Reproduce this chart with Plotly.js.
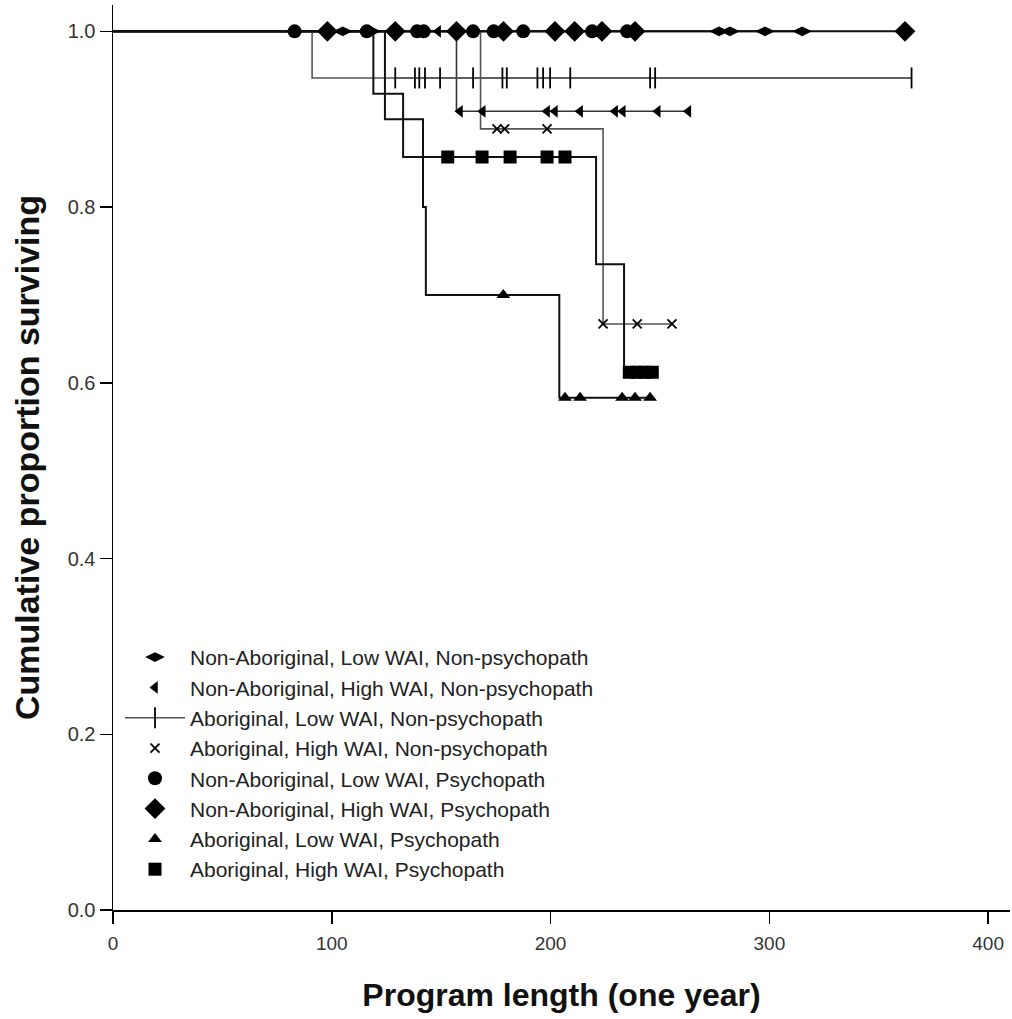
<!DOCTYPE html>
<html>
<head>
<meta charset="utf-8">
<script src="https://cdn.plot.ly/plotly-3.0.1.min.js"></script>
<style>html,body{margin:0;padding:0;background:#fff;}#chart{width:1012px;height:1019px;}</style>
</head>
<body>
<div id="chart"></div>
<script>
// ---- Data (Kaplan-Meier curves) ----
const groupNames = [
  "Non-Aboriginal, Low WAI, Non-psychopath",
  "Non-Aboriginal, High WAI, Non-psychopath",
  "Aboriginal, Low WAI, Non-psychopath",
  "Aboriginal, High WAI, Non-psychopath",
  "Non-Aboriginal, Low WAI, Psychopath",
  "Non-Aboriginal, High WAI, Psychopath",
  "Aboriginal, Low WAI, Psychopath",
  "Aboriginal, High WAI, Psychopath"
];

// step curve knots: times and survival after each time
const stepTimes1 = [0, 315];
const stepSurv1  = [1.0, 1.0];
const stepTimes2 = [0, 157, 263];
const stepSurv2  = [1.0, 0.909, 0.909];
const stepTimes3 = [0, 91, 365];
const stepSurv3  = [1.0, 0.947, 0.947];
const stepTimes4 = [0, 168, 224, 255.5];
const stepSurv4  = [1.0, 0.889, 0.667, 0.667];
const stepTimes5 = [0, 235];
const stepSurv5  = [1.0, 1.0];
const stepTimes6 = [0, 362];
const stepSurv6  = [1.0, 1.0];
const stepTimes7 = [0, 124.3, 141.7, 143, 204, 245.5];
const stepSurv7  = [1.0, 0.9, 0.8, 0.7, 0.583, 0.583];
const stepTimes8 = [0, 119, 132.6, 220.8, 233.6, 247];
const stepSurv8  = [1.0, 0.929, 0.857, 0.735, 0.612, 0.612];

// censored observation times
const censor1 = [105, 118, 277, 282, 298, 315];
const censor2 = [148.6, 158.6, 169, 198.4, 202, 213.5, 229.5, 233, 249, 263];
const censor3 = [129, 138, 140, 142.6, 149.5, 164.6, 178, 180, 194, 196.6, 199.8, 209, 245.5, 247.8, 365];
const censor4 = [175.5, 179, 198.4, 224, 239.6, 255.5];
const censor5 = [83, 116, 139, 142, 164.6, 174, 187.5, 219, 235];
const censor6 = [98, 129, 157, 178.5, 202, 211, 223.5, 238.6, 362];
const censor7 = [178.4, 206.6, 213.5, 232.7, 238.6, 245.5];
const censor8 = [153, 168.7, 181.5, 198.4, 206.6, 236, 239.5, 243, 246.5];

const xTicks = [0, 100, 200, 300, 400];
const yTicks = [0, 0.2, 0.4, 0.6, 0.8, 1.0];

// ---- styles ----
const stepTimes = [stepTimes1, stepTimes2, stepTimes3, stepTimes4, stepTimes5, stepTimes6, stepTimes7, stepTimes8];
const stepSurv  = [stepSurv1, stepSurv2, stepSurv3, stepSurv4, stepSurv5, stepSurv6, stepSurv7, stepSurv8];
const censors   = [censor1, censor2, censor3, censor4, censor5, censor6, censor7, censor8];
const lineStyles = [
  {color:'#111', width:2},
  {color:'#333', width:1.6},
  {color:'#555', width:1.6},
  {color:'#555', width:1.6},
  {color:'#111', width:2},
  {color:'#111', width:2},
  {color:'#111', width:2},
  {color:'#111', width:2}
];
const markerStyles = [
  {symbol:'diamond-wide', size:14, color:'#000'},
  {symbol:'triangle-left', size:11, color:'#000'},
  {symbol:'line-ns', size:15, color:'#000', line:{color:'#000', width:1.8}},
  {symbol:'x-thin', size:9, color:'#000', line:{color:'#000', width:1.8}},
  {symbol:'circle', size:14, color:'#000'},
  {symbol:'diamond', size:16, color:'#000'},
  {symbol:'triangle-up', size:12, color:'#000'},
  {symbol:'square', size:13, color:'#000'}
];

function survAt(times, surv, t) {
  let s = surv[0];
  for (let i = 0; i < times.length; i++) { if (times[i] <= t) s = surv[i]; }
  return s;
}

const traces = [];
for (let g = 0; g < 8; g++) {
  traces.push({
    x: stepTimes[g], y: stepSurv[g], mode:'lines', line:Object.assign({shape:'hv'}, lineStyles[g]),
    showlegend:false, hoverinfo:'skip'
  });
}
for (let g = 0; g < 8; g++) {
  const ys = censors[g].map(t => survAt(stepTimes[g], stepSurv[g], t));
  traces.push({
    x: censors[g], y: ys, name: groupNames[g],
    mode: g === 2 ? 'lines+markers' : 'markers',
    line: g === 2 ? {color:'#555', width:1.6} : undefined,
    marker: markerStyles[g], showlegend:true
  });
}

const layout = {
  width:1012, height:1019,
  margin:{l:113, r:2, t:5, b:109},
  paper_bgcolor:'#fff', plot_bgcolor:'#fff',
  font:{family:'Liberation Sans, Arial, sans-serif', color:'#222'},
  showlegend:true,
  legend:{x:0.0078, y:0.3017, xanchor:'left', yanchor:'top', bgcolor:'rgba(255,255,255,0)',
          font:{size:21, color:'#222'}, tracegroupgap:0, itemwidth:60},
  xaxis:{range:[0,410], tickvals:xTicks, ticktext:xTicks.map(String), ticks:'outside', ticklen:12, tickwidth:1.5,
         tickcolor:'#000', showline:true, linecolor:'#000', linewidth:1.5, showgrid:false, zeroline:false,
         tickfont:{size:19, color:'#333'}, ticklabelstandoff:4,
         title:{text:'Program length (one year)', font:{size:32, color:'#111', family:'Liberation Sans, Arial, sans-serif', weight:'bold'}, standoff:30}},
  yaxis:{range:[0,1.03], tickvals:yTicks, ticktext:yTicks.map(v=>v.toFixed(1)), ticks:'outside', ticklen:12, tickwidth:1.5,
         tickcolor:'#000', showline:true, linecolor:'#000', linewidth:1.5, showgrid:false, zeroline:false,
         tickfont:{size:20, color:'#333'},
         title:{text:'Cumulative proportion surviving', font:{size:34, color:'#111', family:'Liberation Sans, Arial, sans-serif', weight:'bold'}, standoff:18}}
};

Plotly.newPlot('chart', traces, layout, {displayModeBar:false, staticPlot:true});
</script>
</body>
</html>
